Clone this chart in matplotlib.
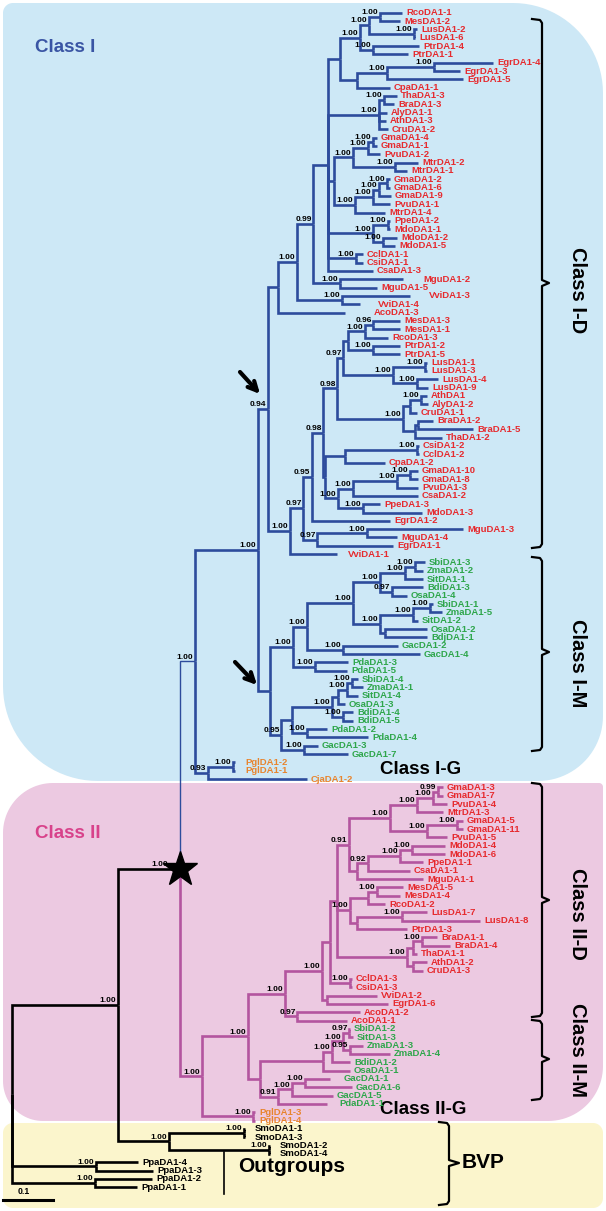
import re
import numpy as np
import matplotlib.pyplot as plt
from matplotlib.patches import Polygon, FancyArrowPatch

plt.rcParams['font.family'] = ['Liberation Sans', 'DejaVu Sans']
plt.rcParams['font.weight'] = 'bold'

# DA1 family tree (Bayesian). Branch lengths in units where the 0.1 scale bar = 50,
# node labels are posterior probabilities.
class_I_D = """
(((((((((RcoDA1-1:22,MesDA1-2:20)1.00:11,(LusDA1-2:3,LusDA1-6:1)1.00:45)1.00:9,
(PtrDA1-4:46,PtrDA1-1:35)1.00:13)1.00:20,
(((EgrDA1-4:59,EgrDA1-3:26)1.00:47,EgrDA1-5:76)1.00:30,CpaDA1-1:33):17):12,
((ThaDA1-3:13,BraDA1-3:10)1.00:5,AlyDA1-1:8,AthDA1-3:7,CruDA1-2:9)1.00:51,
((((GmaDA1-4:4,GmaDA1-1:4)1.00:5,PvuDA1-2:12)1.00:15,(MtrDA1-2:23,MtrDA1-1:12)1.00:42)1.00:19,
((((GmaDA1-2:3,GmaDA1-6:3)1.00:8,GmaDA1-9:12)1.00:6,PvuDA1-1:17)1.00:18,MtrDA1-4:30)1.00:21):6,
((PpeDA1-2:2,MdoDA1-1:2)1.00:15,(MdoDA1-2:14,MdoDA1-5:12)1.00:10)1.00:45,
(CclDA1-1:7,CsiDA1-1:7)1.00:28,
CsaDA1-3:45):15,
(MguDA1-2:63,MguDA1-5:37)1.00:27)0.99:16,
(VviDA1-3:68,VviDA1-4:18)1.00:45)1.00:19,
AcoDA1-3:67):10,
(((((((((MesDA1-3:27,MesDA1-1:27)0.96:8,RcoDA1-3:23)1.00:17,(PtrDA1-2:27,PtrDA1-5:27)1.00:25):5,
((LusDA1-1:2,LusDA1-3:2)1.00:32,(LusDA1-4:21,LusDA1-9:11)1.00:24)1.00:50)0.97:6,
(((AthDA1:6,AlyDA1-2:7)1.00:11,CruDA1-1:7):7,((BraDA1-2:15,BraDA1-5:55):3,ThaDA1-2:27):12)1.00:66)0.98:14,
(((CsiDA1-2:2,CclDA1-2:2)1.00:72,CpaDA1-2:40):20,
((((GmaDA1-10:8,GmaDA1-8:8)1.00:13,PvuDA1-3:21)1.00:44,CsaDA1-2:65)1.00:15,
(PpeDA1-3:17,MdoDA1-3:59)1.00:25)1.00:13):2)0.98:11,
EgrDA1-2:78)0.95:9,
((MguDA1-3:96,MguDA1-4:30)1.00:50,EgrDA1-1:76)0.97:14)0.97:13,
VviDA1-1:47)1.00:22)0.94
"""

class_I_M = """
(((((((SbiDA1-3:10,ZmaDA1-2:8)1.00:10,SitDA1-1:18)1.00:25,(BdiDA1-3:31,OsaDA1-4:15)0.97:12)1.00:27,
(((SbiDA1-1:3,ZmaDA1-5:12)1.00:17,SitDA1-2:5)1.00:33,(OsaDA1-2:42,BdjDA1-1:42):5)1.00:27)1.00:46,
(GacDA1-2:55,GacDA1-4:77)1.00:36)1.00:14,
(PdaDA1-3:33,PdaDA1-5:32)1.00:22)1.00:23,
((((((SbiDA1-4:6,ZmaDA1-1:11)1.00:5,SitDA1-4:11)1.00:9,OsaDA1-3:7):6,
(BdiDA1-4:10,BdiDA1-5:10)1.00:11)1.00:40,
(PdaDA1-2:20,PdaDA1-4:61)1.00:15):11,
(GacDA1-3:14,GacDA1-7:44)1.00:23)0.95:11)
"""

class_I_G = "((PglDA1-2:2,PglDA1-1:2)1.00:25,CjaDA1-2:99)0.93"

class_II_D = """
(((((((((GmaDA1-3:5,GmaDA1-7:5)0.99:5,PvuDA1-4:14)1.00:16,MtrDA1-3:26)1.00:27,
((GmaDA1-5:6,GmaDA1-11:6)1.00:30,PvuDA1-5:20)1.00:37)1.00:41,
((((MdoDA1-4:33,MdoDA1-6:33)1.00:12,PpeDA1-1:23)1.00:32,CsaDA1-1:42)0.92:11,MguDA1-1:66):8)0.91:12,
(((MesDA1-5:26,MesDA1-4:23)1.00:9,RcoDA1-2:17):18,((LusDA1-7:25,LusDA1-8:78)1.00:45,PtrDA1-3:50):7)1.00:13,
(((BraDA1-1:15,BraDA1-4:28)1.00:9,ThaDA1-1:4):6,(AthDA1-2:14,CruDA1-3:10):6)1.00:70):7,
(CclDA1-3:2,CsiDA1-3:2)1.00:20):8,
(VviDA1-2:50,EgrDA1-6:61):5)1.00:37,
(AcoDA1-2:63,AcoDA1-1:50)0.97:12)1.00
"""

class_II_M = """
(((((SbiDA1-2:1,SitDA1-3:4)0.97:6,(ZmaDA1-3:13,ZmaDA1-4:40)0.95:7)1.00:11,BdiDA1-2:18)1.00:9,OsaDA1-1:27):63,
(((GacDA1-1:25,GacDA1-6:47)1.00:13,GacDA1-5:41)1.00:14,PdaDA1-1:49)0.91:18)
"""

class_II_G = "(PglDA1-3:2,PglDA1-4:2)1.00"

smo = "((SmoDA1-1:1,SmoDA1-3:1)1.00:75,(SmoDA1-2:1,SmoDA1-4:1)1.00:100)1.00"
ppa_a = "(PpaDA1-4:42,PpaDA1-3:57)1.00"
ppa_b = "(PpaDA1-2:57,PpaDA1-1:42)1.00"

class_I = f"(({class_I_D}:10,{class_I_M}:12)1.00:63,{class_I_G}:13)1.00"
class_II = f"(({class_II_D}:37,{class_II_M}:12)1.00:46,{class_II_G}:51)1.00"
full_tree = f"((({class_I}:15,{class_II}:22)1.00:62,{smo}:51)1.00:106,{ppa_a}:84,{ppa_b}:83);"

monocots = ['Sbi', 'Zma', 'Sit', 'Bdi', 'Bdj', 'Osa', 'Gac', 'Pda']
gymnosperms = ['Pgl', 'Cja']
outgroup_species = ['Smo', 'Ppa']

BLUE, MAGENTA = '#2D4C9C', '#B3559F'
RED, GREEN, ORANGE = '#E62A2E', '#2EA64B', '#E8842D'


def parse_newick(s):
    s = ''.join(s.split()).rstrip(';')
    pos = 0

    def read():
        nonlocal pos
        node = {'children': [], 'name': '', 'len': 0.0}
        if s[pos] == '(':
            pos += 1
            node['children'].append(read())
            while s[pos] == ',':
                pos += 1
                node['children'].append(read())
            pos += 1
        start = pos
        while pos < len(s) and s[pos] not in ',():':
            pos += 1
        node['name'] = s[start:pos]
        if pos < len(s) and s[pos] == ':':
            pos += 1
            start = pos
            while pos < len(s) and s[pos] not in ',()':
                pos += 1
            node['len'] = float(s[start:pos])
        return node

    return read()


leaf_re = r'([A-Za-z]{3}DA1(?:-\d+)?)'
class_I_leaves = set(re.findall(leaf_re, class_I))
class_II_leaves = set(re.findall(leaf_re, class_II))

tree = parse_newick(full_tree)

ROOT_X, Y0, DY = 12, 12.7, 8.33
leaves = []


def layout(node, x):
    node['x'] = x + node['len']
    if not node['children']:
        node['y'] = Y0 + DY * len(leaves)
        node['leafset'] = {node['name']}
        leaves.append(node)
    else:
        node['leafset'] = set()
        for c in node['children']:
            layout(c, node['x'])
            node['leafset'] |= c['leafset']
        node['y'] = (node['children'][0]['y'] + node['children'][-1]['y']) / 2
    if node['leafset'] <= class_I_leaves:
        node['color'] = BLUE
    elif node['leafset'] <= class_II_leaves:
        node['color'] = MAGENTA
    else:
        node['color'] = 'black'


layout(tree, ROOT_X)

fig = plt.figure(figsize=(6.06, 12.11), dpi=100)
ax = fig.add_axes([0, 0, 1, 1])
ax.set_xlim(0, 606)
ax.set_ylim(1211, 0)
ax.axis('off')


def rounded_box(x0, y0, x1, y1, radii, color):
    tl, tr, br, bl = radii
    pts = []
    for cx, cy, r, a0 in [(x1 - tr, y0 + tr, tr, -90), (x1 - br, y1 - br, br, 0),
                          (x0 + bl, y1 - bl, bl, 90), (x0 + tl, y0 + tl, tl, 180)]:
        t = np.radians(np.linspace(a0, a0 + 90, 24))
        pts += list(zip(cx + r * np.cos(t), cy + r * np.sin(t)))
    ax.add_patch(Polygon(pts, closed=True, facecolor=color, edgecolor='none', zorder=0))


rounded_box(3, 3, 603, 781, (10, 90, 65, 95), '#CDE8F6')
rounded_box(3, 783, 603, 1121, (50, 4, 55, 40), '#ECC9E1')
rounded_box(3, 1123, 603, 1208, (10, 10, 10, 10), '#FBF5CC')

# branches
star_node = tree['children'][0]['children'][0]


def draw(node):
    for c in node['children']:
        lw = 1.0 if (node is star_node and c['color'] == BLUE) else 1.9
        ax.plot([node['x'], node['x'], c['x']], [node['y'], c['y'], c['y']],
                color=c['color'], lw=lw, solid_capstyle='butt', solid_joinstyle='miter', zorder=2)
        draw(c)
    if node['children'] and node['name']:
        dx = 12 if node is star_node else 1.5
        ax.text(node['x'] - dx, node['y'] - 0.8, node['name'], ha='right', va='bottom',
                fontsize=6.0, color='black', zorder=4)


draw(tree)
ax.plot(star_node['x'], star_node['y'], marker='*', ms=26, color='black', zorder=5)

label_nudge = {'VviDA1-3': 15, 'MguDA1-2': 16, 'VviDA1-4': 14, 'AcoDA1-3': 25,
               'GacDA1-1': 10, 'PdaDA1-1': 8, 'VviDA1-1': 7, 'PglDA1-2': 6, 'PglDA1-1': 6,
               'SmoDA1-1': 6, 'SmoDA1-3': 6, 'SmoDA1-2': 6, 'SmoDA1-4': 6}

for lf in leaves:
    sp = lf['name'][:3]
    if sp in monocots:
        col = GREEN
    elif sp in gymnosperms:
        col = ORANGE
    elif sp in outgroup_species:
        col = 'black'
    else:
        col = RED
    ax.text(lf['x'] + 4 + label_nudge.get(lf['name'], 0), lf['y'], lf['name'],
            ha='left', va='center', fontsize=6.8, color=col, zorder=4)


# clade brackets
def brace(x, y0, y1, ym, tick=7):
    xs = [x - 10, x - 2, x, x, x + tick, x, x, x - 2, x - 10]
    ys = [y0, y0 + 1, y0 + 4, ym - 3, ym, ym + 3, y1 - 4, y1 - 1, y1]
    ax.plot(xs, ys, color='black', lw=1.6, solid_joinstyle='round', zorder=3)


brace(542, 19, 548, 283)
brace(542, 557, 751, 652)
brace(542, 783, 1017, 900)
brace(542, 1020, 1100, 1059)
brace(449, 1122, 1205, 1163, tick=10)

for txt, yc in [('Class I-D', 290), ('Class I-M', 663), ('Class II-D', 914), ('Class II-M', 1050)]:
    ax.text(577, yc, txt, rotation=270, ha='center', va='center', fontsize=14.5, color='black')

ax.text(35, 48, 'Class I', fontsize=13.5, color='#3A55A4', va='center', ha='left')
ax.text(35, 833, 'Class II', fontsize=13.5, color='#D8428B', va='center', ha='left')
ax.text(380, 770, 'Class I-G', fontsize=13.5, color='black', va='center', ha='left')
ax.text(380, 1110, 'Class II-G', fontsize=13.5, color='black', va='center', ha='left')
ax.text(238, 1167, 'Outgroups', fontsize=15, color='black', va='center', ha='left')
ax.text(462, 1163, 'BVP', fontsize=15, color='black', va='center', ha='left')
ax.plot([224, 224], [1152, 1194], color='black', lw=1.2)

# arrows marking duplication nodes
for tail, head in [((240, 372), (260, 394)), ((235, 662), (257, 685))]:
    ax.add_patch(FancyArrowPatch(tail, head, arrowstyle='->', mutation_scale=16, lw=3,
                                 color='black', shrinkA=0, shrinkB=0, zorder=5))

# scale bar
ax.plot([3, 53], [1200, 1200], color='black', lw=2.2)
ax.text(24, 1196, '0.1', fontsize=6.3, ha='center', va='bottom')

fig.savefig('out.png', dpi=100)
